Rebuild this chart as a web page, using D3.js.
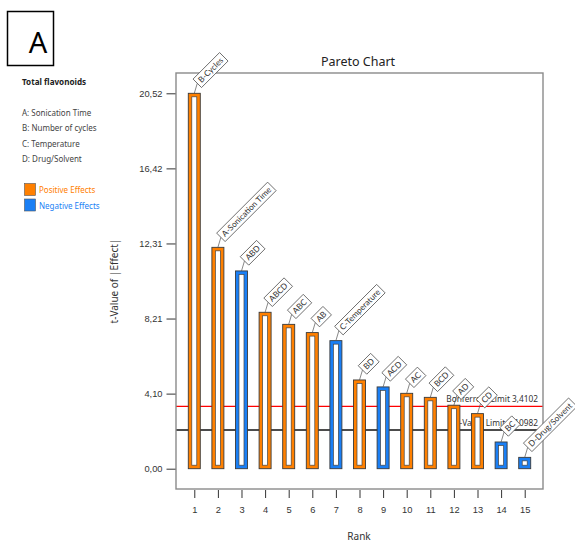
<!DOCTYPE html>
<html>
<head>
<meta charset="utf-8">
<script src="https://cdn.jsdelivr.net/npm/d3@7"></script>
<style>
  html, body { margin: 0; padding: 0; background: #fff; }
  svg { display: block; font-family: "Noto Sans", "Open Sans", sans-serif; }
</style>
</head>
<body>
<svg id="chart" width="575" height="543"></svg>
<script>
// Pareto chart of standardized effects (t-values) for total flavonoids
const ranks = [1, 2, 3, 4, 5, 6, 7, 8, 9, 10, 11, 12, 13, 14, 15];
const terms = ["B-Cycles", "A-Sonication Time", "ABD", "ABCD", "ABC", "AB", "C-Temperature",
               "BD", "ACD", "AC", "BCD", "AD", "CD", "BC", "D-Drug/Solvent"];
const tValues = [20.52, 12.10, 10.81, 8.55, 7.89, 7.44, 7.00, 4.85, 4.47, 4.12, 3.90, 3.47, 3.01, 1.46, 0.62];
const effectSign = ["+", "+", "-", "+", "+", "+", "-", "+", "-", "+", "+", "+", "+", "-", "-"];
const yTickValues = [0, 4.104, 8.208, 12.312, 16.416, 20.52];
const limitNames = ["Bonferroni Limit", "t-Value Limit"];
const limitValues = [3.4102, 2.10982];
const limitLabels = ["3,4102", "2,10982"];
const factorLegend = ["A: Sonication Time", "B: Number of cycles", "C: Temperature", "D: Drug/Solvent"];
const effectLegend = ["Positive Effects", "Negative Effects"];

const ORANGE = "#ff8000", BLUE = "#1a7ff5";
const svg = d3.select("#chart");

const frame = { left: 176, right: 543, top: 73, bottom: 489 };
const x = d3.scaleLinear().domain([0.225, 15.775]).range([frame.left, frame.right]);
const y = d3.scaleLinear().domain([-1.11, 21.63]).range([frame.bottom, frame.top]);
const commaFmt = d3.formatLocale({ decimal: ",", thousands: ".", grouping: [3], currency: ["", ""] }).format(".2f");

// Panel letter box
svg.append("rect").attr("x", 7.5).attr("y", 11.5).attr("width", 46).attr("height", 54)
  .attr("fill", "none").attr("stroke", "#000").attr("stroke-width", 1.5);
svg.append("text").attr("x", 38).attr("y", 53).attr("text-anchor", "middle")
  .attr("font-size", 29).attr("fill", "#000").text("A");

// Factor key
svg.append("text").attr("x", 22).attr("y", 85).attr("font-size", 8.1).attr("font-weight", "bold")
  .attr("fill", "#222").text("Total flavonoids");
svg.selectAll("text.factor").data(factorLegend).join("text").attr("class", "factor")
  .attr("x", 22).attr("y", (d, i) => 116 + i * 15.3).attr("font-size", 8).attr("fill", "#444").text(d => d);

// Effect colour key
const effColors = [ORANGE, BLUE];
svg.selectAll("rect.eff").data(effectLegend).join("rect").attr("class", "eff")
  .attr("x", 24.5).attr("y", (d, i) => 183.5 + i * 15.5).attr("width", 11).attr("height", 12)
  .attr("fill", (d, i) => effColors[i]).attr("stroke", "#555").attr("stroke-width", 0.6);
svg.selectAll("text.eff").data(effectLegend).join("text").attr("class", "eff")
  .attr("x", 39).attr("y", (d, i) => 193 + i * 15.5).attr("font-size", 8)
  .attr("fill", (d, i) => effColors[i]).text(d => d);

// Title
svg.append("text").attr("x", 358).attr("y", 66).attr("text-anchor", "middle")
  .attr("font-size", 12.5).attr("fill", "#222").text("Pareto Chart");

// Limit lines (drawn beneath the bars)
const limColors = ["#ff0000", "#111"];
svg.selectAll("line.limit").data(limitValues).join("line").attr("class", "limit")
  .attr("x1", frame.left).attr("x2", frame.right)
  .attr("y1", d => y(d)).attr("y2", d => y(d))
  .attr("stroke", (d, i) => limColors[i]).attr("stroke-width", (d, i) => i === 0 ? 1.2 : 1.5);
svg.selectAll("text.limit").data(limitValues).join("text").attr("class", "limit")
  .attr("x", 538).attr("y", d => y(d) - 4.5).attr("text-anchor", "end")
  .attr("font-size", 8.3).attr("fill", "#333")
  .text((d, i) => limitNames[i] + " " + limitLabels[i]);

// Frame
svg.append("rect").attr("x", frame.left).attr("y", frame.top)
  .attr("width", frame.right - frame.left).attr("height", frame.bottom - frame.top)
  .attr("fill", "none").attr("stroke", "#8a8a8a").attr("stroke-width", 1.4);

// Axes
const yAxis = d3.axisLeft(y).tickValues(yTickValues).tickFormat(commaFmt).tickSize(9).tickSizeOuter(0).tickPadding(4);
const gy = svg.append("g").attr("transform", `translate(${frame.left - 0.5},0)`).call(yAxis);
gy.select(".domain").remove();
gy.selectAll(".tick line").attr("stroke", "#333");
gy.selectAll(".tick text").attr("font-size", 9.3).attr("fill", "#333").attr("font-family", null);

const xAxis = d3.axisBottom(x).tickValues(ranks).tickFormat(d3.format("d")).tickSize(8).tickPadding(8);
const gx = svg.append("g").attr("transform", `translate(0,${frame.bottom + 1})`).call(xAxis);
gx.select(".domain").remove();
gx.selectAll(".tick line").attr("stroke", "#333");
gx.selectAll(".tick text").attr("font-size", 9.3).attr("fill", "#333").attr("font-family", null);

// Axis titles
svg.append("text").attr("x", 359).attr("y", 540).attr("text-anchor", "middle")
  .attr("font-size", 10).attr("fill", "#333").text("Rank");
svg.append("text").attr("transform", `translate(118,${(frame.top + frame.bottom) / 2}) rotate(-90)`)
  .attr("text-anchor", "middle").attr("font-size", 10).attr("fill", "#333").text("t-Value of |Effect|");

// Bars: coloured hollow frames
const barW = 12, inset = 3.5;
const bars = svg.append("g").selectAll("g").data(ranks).join("g");
bars.append("rect")
  .attr("x", (d) => x(d) - barW / 2).attr("y", (d, i) => y(tValues[i]))
  .attr("width", barW).attr("height", (d, i) => y(0) - y(tValues[i]))
  .attr("fill", (d, i) => effectSign[i] === "+" ? ORANGE : BLUE)
  .attr("stroke", "#3a3a3a").attr("stroke-width", 0.9);
bars.append("rect")
  .attr("x", (d) => x(d) - barW / 2 + inset).attr("y", (d, i) => y(tValues[i]) + inset)
  .attr("width", barW - 2 * inset).attr("height", (d, i) => Math.max(0.5, y(0) - y(tValues[i]) - 2 * inset))
  .attr("fill", "#fff").attr("stroke", "#444").attr("stroke-width", 0.7);

// Term labels: leader line plus rotated boxed text
const labels = svg.append("g").selectAll("g").data(ranks).join("g");
labels.append("line")
  .attr("x1", d => x(d)).attr("y1", (d, i) => y(tValues[i]))
  .attr("x2", d => x(d) + 3).attr("y2", (d, i) => y(tValues[i]) - 10)
  .attr("stroke", "#555").attr("stroke-width", 0.7);
const tag = labels.append("g")
  .attr("transform", (d, i) => `translate(${x(d) + 3},${y(tValues[i]) - 10}) rotate(-45)`);
tag.append("rect").attr("fill", "#fff").attr("stroke", "#555").attr("stroke-width", 0.8);
const tagText = tag.append("text").attr("x", 3).attr("dy", "0.35em")
  .attr("font-family", "Lato, 'Liberation Sans', sans-serif")
  .attr("font-size", 8.2).attr("fill", "#333").text((d, i) => terms[i]);
tagText.each(function () {
  const w = this.getComputedTextLength();
  d3.select(this.parentNode).select("rect")
    .attr("x", 0).attr("y", -6).attr("width", w + 6).attr("height", 12);
});
</script>
</body>
</html>
